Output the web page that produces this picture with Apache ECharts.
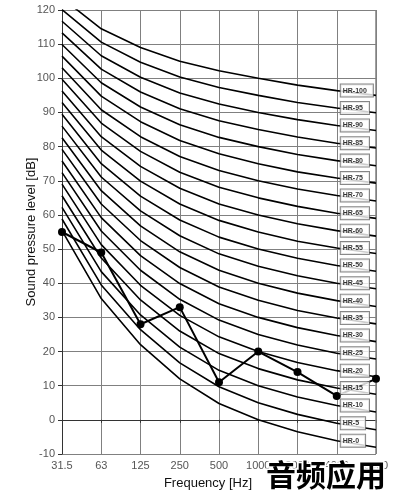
<!DOCTYPE html>
<html>
<head>
<meta charset="utf-8">
<script src="https://cdn.jsdelivr.net/npm/echarts@6/dist/echarts.min.js"></script>
<style>
html,body{margin:0;padding:0;background:#fff;}
#chart{width:398px;height:500px;}
</style>
</head>
<body>
<div id="chart"></div>
<script>
const frequencies = ['31.5','63','125','250','500','1000','2000','4000','8000'];
const measured = [55, 49, 28, 33, 11, 20, 14, 7, 12];

const hr0   = [55.4, 35.5, 22.0, 12.0, 4.8, 0, -3.5, -6.1, -8.0];
const hr5   = [58.8, 39.5, 26.4, 16.7, 9.7, 5, 1.6, -1.0, -2.9];
const hr10  = [62.2, 43.4, 30.7, 21.3, 14.5, 10, 6.7, 4.2, 2.3];
const hr15  = [65.6, 47.4, 35.1, 26.0, 19.4, 15, 11.7, 9.3, 7.5];
const hr20  = [69.0, 51.3, 39.4, 30.6, 24.3, 20, 16.8, 14.4, 12.6];
const hr25  = [72.4, 55.3, 43.8, 35.3, 29.2, 25, 21.9, 19.5, 17.8];
const hr30  = [75.8, 59.2, 48.1, 39.9, 34.0, 30, 27.0, 24.7, 22.9];
const hr35  = [79.2, 63.2, 52.5, 44.6, 38.9, 35, 32.0, 29.8, 28.1];
const hr40  = [82.6, 67.1, 56.8, 49.2, 43.8, 40, 37.1, 34.9, 33.2];
const hr45  = [86.0, 71.1, 61.2, 53.9, 48.6, 45, 42.2, 40.0, 38.4];
const hr50  = [89.5, 75.0, 65.5, 58.5, 53.5, 50, 47.3, 45.2, 43.5];
const hr55  = [92.9, 79.0, 69.9, 63.2, 58.4, 55, 52.3, 50.3, 48.7];
const hr60  = [96.3, 82.9, 74.2, 67.8, 63.2, 60, 57.4, 55.4, 53.8];
const hr65  = [99.7, 86.9, 78.6, 72.5, 68.1, 65, 62.5, 60.5, 59.0];
const hr70  = [103.1, 90.8, 82.9, 77.1, 73.0, 70, 67.6, 65.7, 64.1];
const hr75  = [106.5, 94.8, 87.3, 81.8, 77.9, 75, 72.6, 70.8, 69.3];
const hr80  = [109.9, 98.7, 91.6, 86.4, 82.7, 80, 77.7, 75.9, 74.4];
const hr85  = [113.3, 102.7, 96.0, 91.1, 87.6, 85, 82.8, 81.0, 79.6];
const hr90  = [116.7, 106.6, 100.3, 95.7, 92.5, 90, 87.9, 86.2, 84.7];
const hr95  = [120.1, 110.6, 104.7, 100.4, 97.3, 95, 92.9, 91.3, 89.9];
const hr100 = [123.5, 114.5, 109.0, 105.0, 102.2, 100, 98.0, 96.4, 95.0];

const curveNames = ['HR-0','HR-5','HR-10','HR-15','HR-20','HR-25','HR-30','HR-35','HR-40','HR-45','HR-50',
  'HR-55','HR-60','HR-65','HR-70','HR-75','HR-80','HR-85','HR-90','HR-95','HR-100'];
const curves = [hr0,hr5,hr10,hr15,hr20,hr25,hr30,hr35,hr40,hr45,hr50,hr55,hr60,hr65,hr70,hr75,hr80,hr85,hr90,hr95,hr100];
const yTicks = {min: -10, max: 120, step: 10};
const labelIndex = 7; // curve labels sit at 4000 Hz

const chart = echarts.init(document.getElementById('chart'), null, {renderer: 'canvas'});

const series = [];
curves.forEach((c, i) => {
  series.push({
    name: curveNames[i],
    type: 'line',
    data: c,
    symbol: 'none',
    smooth: false,
    z: 2,
    lineStyle: {color: '#000', width: 1.6},
    silent: true
  });
});
series.push({
  name: 'measured',
  type: 'line',
  data: measured,
  symbol: 'circle',
  symbolSize: 8,
  z: 3,
  itemStyle: {color: '#000'},
  lineStyle: {color: '#000', width: 2}
});
series.push({
  name: 'labels',
  type: 'scatter',
  symbolSize: 0,
  z: 10,
  data: curves.map((c, i) => ({value: [labelIndex, c[labelIndex]], name: curveNames[i]})),
  label: {
    show: true,
    position: 'right',
    distance: 4,
    formatter: p => p.name,
    fontSize: 7,
    lineHeight: 8,
    fontWeight: 'bold',
    fontFamily: 'Liberation Sans, Arial, sans-serif',
    color: '#000',
    backgroundColor: '#fff',
    borderColor: '#666',
    borderWidth: 1,
    padding: [2, 6, 2, 2]
  }
});

chart.setOption({
  animation: false,
  backgroundColor: '#fff',
  grid: {left: 62, right: 22, top: 10, bottom: 46, show: false},
  xAxis: {
    type: 'category',
    data: frequencies,
    boundaryGap: false,
    axisLine: {lineStyle: {color: '#333', width: 1}},
    axisTick: {show: true, length: 3, lineStyle: {color: '#333'}},
    axisLabel: {fontSize: 11, color: '#555', margin: 6, fontFamily: 'Liberation Sans, Arial, sans-serif'},
    splitLine: {show: true, lineStyle: {color: '#808080', width: 1}}
  },
  yAxis: {
    type: 'value',
    min: yTicks.min,
    max: yTicks.max,
    interval: yTicks.step,
    name: 'Sound pressure level [dB]',
    nameLocation: 'middle',
    nameGap: 24,
    nameMoveOverlap: false,
    nameTextStyle: {fontSize: 13, color: '#111', fontFamily: 'Liberation Sans, Arial, sans-serif'},
    axisLine: {show: true, lineStyle: {color: '#333', width: 1}},
    axisTick: {show: true, length: 4, lineStyle: {color: '#333'}},
    axisLabel: {fontSize: 11, color: '#555', margin: 7, fontFamily: 'Liberation Sans, Arial, sans-serif'},
    splitLine: {show: true, lineStyle: {color: '#808080', width: 1}}
  },
  graphic: [
    {type: 'rect', shape: {x: 376, y: 10, width: 0, height: 444}, style: {stroke: '#808080', lineWidth: 1, fill: null}, z: 1},
    {type: 'text', x: 208, y: 483, style: {text: 'Frequency [Hz]', fontSize: 13, fill: '#111', align: 'center', verticalAlign: 'middle', fontFamily: 'Liberation Sans, Arial, sans-serif'}},
    {type: 'text', x: 326, y: 475, z: 100, style: {text: '音频应用', fontSize: 30, fontWeight: 'bold', fill: '#000', stroke: '#fff', lineWidth: 3, align: 'center', verticalAlign: 'middle', fontFamily: 'Noto Sans CJK SC, sans-serif'}}
  ],
  series: series
});
</script>
</body>
</html>
